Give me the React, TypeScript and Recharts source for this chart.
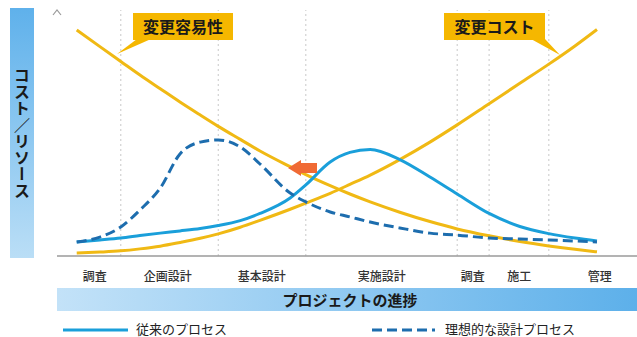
import React from "react";
import { LineChart, Line, XAxis, YAxis, ReferenceLine } from "recharts";

// project progress (0-100) where each curve is sampled
const progress = [3.4, 7.4, 11, 14.3, 17.8, 21.2, 24.7, 27.8, 31.6, 35, 40.2, 42.9, 47.1, 50.5, 54, 59.1, 64.3, 69, 74.5, 79.8, 84.8, 89.3, 93.1];
const conventional = [5.7, 6.5, 7.3, 8.3, 9.3, 10.2, 11.2, 12.4, 14.4, 17.3, 23.6, 28.9, 38.2, 42.1, 43.3, 39.2, 32.1, 25.2, 17.3, 12, 9.1, 7.3, 6.1];
const ideal = [5.7, 7.7, 11.8, 18.7, 27.6, 41.5, 46.3, 47.2, 44.3, 37.4, 25.6, 22, 17.9, 15.9, 13.8, 11.4, 9.3, 8.5, 7.3, 6.9, 6.5, 6.1, 5.7];
const easeOfChange = [91.9, 85.1, 79.1, 73.6, 68, 62.6, 57.3, 52.7, 47.4, 42.7, 36.3, 33.1, 28.6, 25.2, 22, 17.8, 14, 11, 8.2, 5.9, 4.1, 2.7, 1.7];
const costOfChange = [1.2, 1.6, 2.1, 2.9, 4, 5.5, 7.2, 9, 11.7, 14.5, 19, 21.5, 25.5, 29.1, 32.9, 39.2, 46.3, 53.3, 61.9, 70.2, 78, 85.4, 92.1];

const phaseLabels = ["調査", "企画設計", "基本設計", "実施設計", "調査", "施工", "管理"];
const phaseTicks = [6.5, 19.1, 35.3, 56, 71.7, 79.7, 93.6];
const phaseBounds = [11, 27.8, 42.9, 69, 74.5, 84.8];

const data = progress.map((p, i) => ({
  p,
  conventional: conventional[i],
  ideal: ideal[i],
  ease: easeOfChange[i],
  cost: costOfChange[i],
}));

const YELLOW = "#F0B914";
const BLUE = "#1A9FDA";
const DARK_BLUE = "#1D6DAE";
const FONT = "'Noto Sans CJK JP', 'Noto Sans', sans-serif";

export default function App() {
  return (
    <div style={{ position: "absolute", left: 0, top: 0, width: 637, height: 337, background: "#fff", fontFamily: FONT, overflow: "hidden" }}>
      {/* left y-title band */}
      <div
        style={{
          position: "absolute", left: 10, top: 8, width: 24, height: 250,
          background: "linear-gradient(to bottom, #5FB1EB, #BADEF6)",
          display: "flex", alignItems: "center", justifyContent: "center",
        }}
      >
        <span style={{ writingMode: "vertical-rl", fontSize: 16, fontWeight: 700, color: "#1a1a1a", letterSpacing: 0.5 }}>
          コスト／リソース
        </span>
      </div>

      <div style={{ position: "absolute", left: 0, top: 0 }}>
        <LineChart width={637} height={337} data={data} margin={{ top: 10, right: 0, bottom: 51, left: 57 }}>
          <XAxis
            dataKey="p"
            type="number"
            domain={[0, 100]}
            ticks={phaseTicks}
            interval={0}
            tickFormatter={(v: number) => phaseLabels[phaseTicks.indexOf(v)] ?? ""}
            tickLine={false}
            tickMargin={10}
            height={30}
            axisLine={{ stroke: "#9a9a9a", strokeWidth: 1.5 }}
            tick={{ fontSize: 12, fill: "#333", fontWeight: 500 }}
          />
          <YAxis
            type="number"
            domain={[0, 100]}
            width={0}
            tick={false}
            tickLine={false}
            axisLine={{ stroke: "#9a9a9a", strokeWidth: 1.2 }}
          />
          {phaseBounds.map((b) => (
            <ReferenceLine key={b} x={b} stroke="#c8c8c8" strokeDasharray="2 3" />
          ))}
          <Line type="monotone" dataKey="ease" stroke={YELLOW} strokeWidth={3} dot={false} isAnimationActive={false} />
          <Line type="monotone" dataKey="cost" stroke={YELLOW} strokeWidth={3} dot={false} isAnimationActive={false} />
          <Line type="monotone" dataKey="conventional" stroke={BLUE} strokeWidth={3} dot={false} isAnimationActive={false} />
          <Line type="monotone" dataKey="ideal" stroke={DARK_BLUE} strokeWidth={3} strokeDasharray="10 5" dot={false} isAnimationActive={false} />
        </LineChart>
      </div>

      {/* annotations */}
      <svg width={637} height={337} style={{ position: "absolute", left: 0, top: 0, pointerEvents: "none" }}>
        <polyline points="53,15 57,10 61,15" fill="none" stroke="#9a9a9a" strokeWidth={1.2} />
        <rect x={133} y={13} width={100} height={27} fill="#F5B700" />
        <polygon points="137,39 151,39 117,54" fill="#F5B700" />
        <text x={183} y={32.5} textAnchor="middle" fontSize={16} fontWeight={700} fill="#1a1a1a">変更容易性</text>
        <rect x={444} y={13} width={101} height={27} fill="#F5B700" />
        <polygon points="531,39 545,39 560,55" fill="#F5B700" />
        <text x={494.5} y={32.5} textAnchor="middle" fontSize={16} fontWeight={700} fill="#1a1a1a">変更コスト</text>
        <polygon points="288,168 301,160 301,163 317,163 317,173 301,173 301,176" fill="#F06A34" />
        {/* legend */}
        <line x1={63} y1={330} x2={128} y2={330} stroke={BLUE} strokeWidth={3} />
        <text x={136} y={334} fontSize={13} fill="#222">従来のプロセス</text>
        <line x1={372} y1={330} x2={435} y2={330} stroke={DARK_BLUE} strokeWidth={3} strokeDasharray="10 5" />
        <text x={445} y={334} fontSize={13} fill="#222">理想的な設計プロセス</text>
      </svg>

      {/* bottom x-title band */}
      <div
        style={{
          position: "absolute", left: 57, top: 288, width: 580, height: 23,
          background: "linear-gradient(to right, #C3E2F8, #5DB0EA)",
          display: "flex", alignItems: "center", justifyContent: "center",
          fontSize: 15, fontWeight: 700, color: "#1a1a1a",
        }}
      >
        <span style={{ marginLeft: 6 }}>プロジェクトの進捗</span>
      </div>
    </div>
  );
}
